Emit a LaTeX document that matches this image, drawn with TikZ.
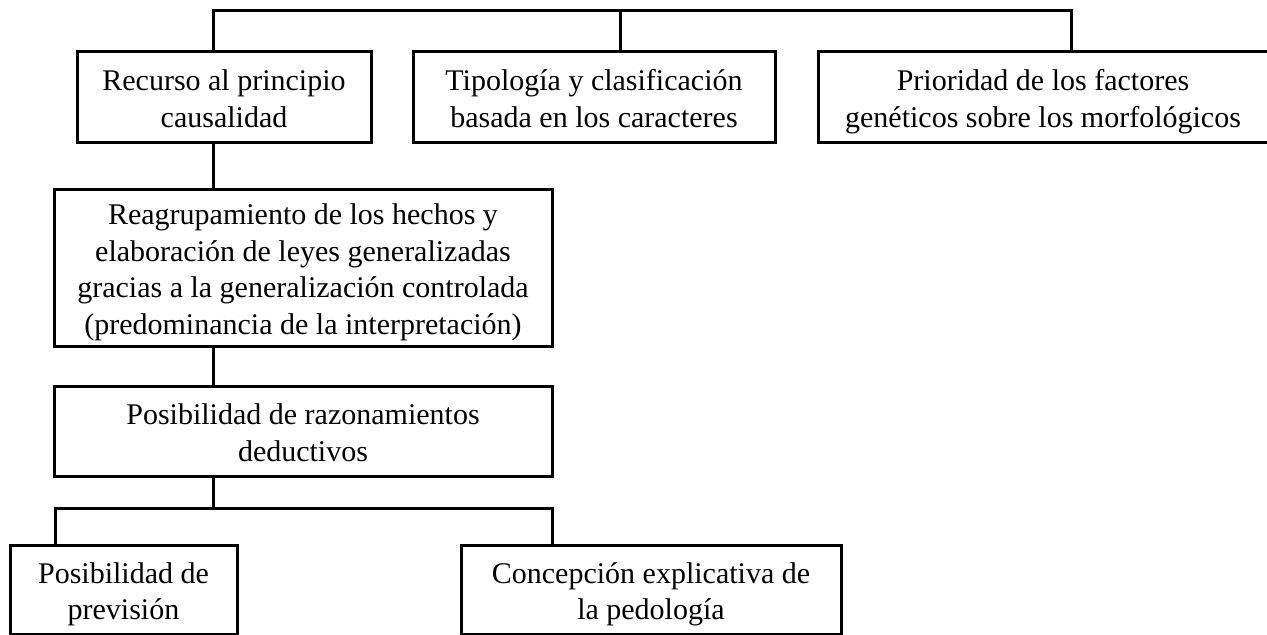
\documentclass[tikz,border=0pt]{standalone}
\usepackage{fontspec}
\setmainfont{Liberation Serif}
\begin{document}
\tikzset{
  box/.style={draw, line width=2.25pt, inner sep=0pt},
  txt/.style={align=center, inner sep=0pt, yshift=-3.5pt,
    font=\fontsize{22.5pt}{27.5pt}\selectfont},
  link/.style={line width=2.25pt},
}
\begin{tikzpicture}[x=0.75pt,y=-0.75pt]
\useasboundingbox (0,0) rectangle (1267,635);
\node[box, minimum width={294*0.75pt}, minimum height={90*0.75pt},
  label={[txt]center:{\strut Recurso al principio\\causalidad\strut}}] (rec) at (224,97) {};
\node[box, minimum width={362*0.75pt}, minimum height={90*0.75pt},
  label={[txt]center:{\strut Tipología y clasificación\\basada en los caracteres\strut}}] (tip) at (594,97) {};
\node[box, minimum width={450*0.75pt}, minimum height={90*0.75pt},
  label={[txt]center:{\strut Prioridad de los factores\\genéticos sobre los morfológicos\strut}}] (pri) at (1043,97) {};
\node[box, minimum width={498*0.75pt}, minimum height={157*0.75pt},
  label={[txt]center:{\strut Reagrupamiento de los hechos y\\elaboración de leyes generalizadas\\gracias a la generalización controlada\\(predominancia de la interpretación)\strut}}] (reag) at (303,267.5) {};
\node[box, minimum width={498*0.75pt}, minimum height={90*0.75pt},
  label={[txt]center:{\strut Posibilidad de razonamientos\\deductivos\strut}}] (pos) at (303,431) {};
\node[box, minimum width={227*0.75pt}, minimum height={89*0.75pt},
  label={[txt]center:{\strut Posibilidad de\\previsión\strut}}] (prev) at (123.5,589.5) {};
\node[box, minimum width={380*0.75pt}, minimum height={89*0.75pt},
  label={[txt]center:{\strut Concepción explicativa de\\la pedología\strut}}] (conc) at (651,589.5) {};
\coordinate (busL) at (213,11);
\coordinate (busM) at (620,11);
\coordinate (busR) at (1071,11);
\draw[link] (busL |- rec.north) -- (busL) -- (busR) -- (busR |- pri.north);
\draw[link] (busM) -- (busM |- tip.north);
\draw[link] (busL |- rec.south) -- (busL |- reag.north);
\draw[link] (busL |- reag.south) -- (busL |- pos.north);
\coordinate (bbL) at (55,508);
\coordinate (bbR) at (552,508);
\draw[link] (busL |- pos.south) -- (busL |- bbL);
\draw[link] (bbL |- prev.north) -- (bbL) -- (bbR) -- (bbR |- conc.north);
\end{tikzpicture}
\end{document}
